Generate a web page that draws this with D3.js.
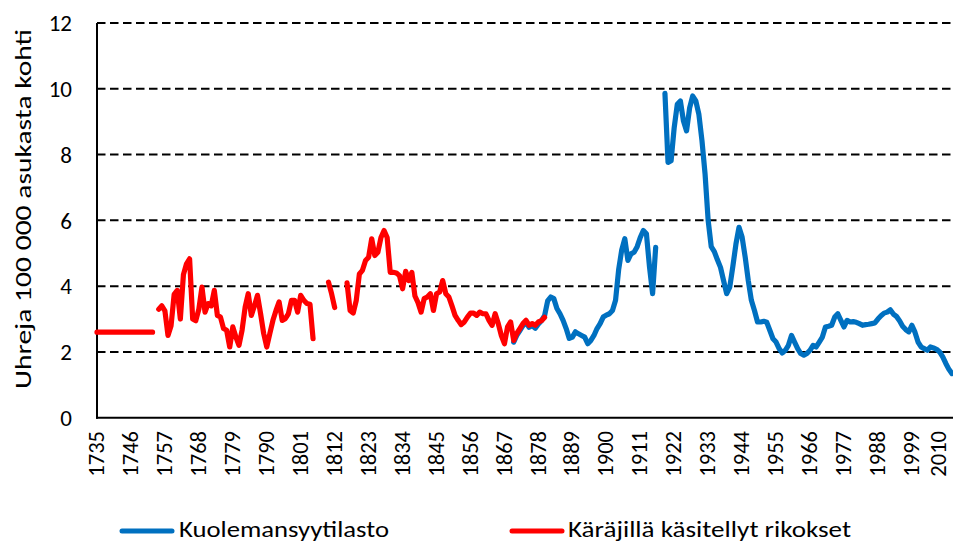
<!DOCTYPE html>
<html>
<head>
<meta charset="utf-8">
<script src="https://cdn.jsdelivr.net/npm/d3@7"></script>
<style>
  html, body { margin: 0; padding: 0; background: #fff; }
  svg { display: block; }
  text { font-family: Carlito, Lato, "Open Sans", sans-serif; fill: #000; }
</style>
</head>
<body>
<svg id="chart" width="953" height="542"></svg>
<script>
// ---- data ----
const firstYear = 1735;
const lastYear = 2012;
const tickLabels = ["1735","1746","1757","1768","1779","1790","1801","1812","1823","1834","1845","1856","1867","1878","1889","1900","1911","1922","1933","1944","1955","1966","1977","1988","1999","2010"];
const yTicks = [0, 2, 4, 6, 8, 10, 12];

const seriesNames = ["Kuolemansyytilasto", "Käräjillä käsitellyt rikokset"];
const seriesColors = ["#0070C0", "#FF0000"];

// Käräjillä käsitellyt rikokset, values from 1735 (null = no data)
const redStart = 1735;
const redValues = [
  2.6,2.6,2.6,2.6,2.6,2.6,2.6,2.6,2.6,2.6,2.6,2.6,2.6,2.6,2.6,2.6,2.6,2.6,2.6, // 1735-1753
  null, // 1754
  3.3,3.4,3.25,2.5,2.8,3.75,3.87,3.0,4.35,4.68, // 1755-1764
  4.83,3.0,2.95,3.3,3.97,3.21,3.47,3.4,3.87,3.11, // 1765-1774
  3.06,2.71,2.66,2.15,2.76,2.45,2.2,2.66,3.36,3.77, // 1775-1784
  3.11,3.4,3.72,3.16,2.56,2.15,2.56,2.96,3.26,3.52, // 1785-1794
  2.96,3.01,3.16,3.57,3.57,3.21,3.72,3.57,3.47,3.45, // 1795-1804
  2.4, // 1805
  null,null,null,null, // 1806-1809
  4.12,3.77,3.35, // 1810-1812
  null,null,null, // 1813-1815
  4.1,3.26,3.18,3.57, // 1816-1819
  4.37,4.48,4.78,4.88,5.44,4.93,5.03,5.48,5.69,5.48, // 1820-1829
  4.42,4.42,4.4,4.32,3.92,4.45,4.17,4.42,3.7,3.5, // 1830-1839
  3.21,3.62,3.67,3.77,3.26,3.77,3.82,4.17,3.77,3.67, // 1840-1849
  3.4,3.11,2.96,2.83,2.91,3.06,3.18,3.18,3.11,3.21, // 1850-1859
  3.16,3.16,2.96,2.81,3.16,2.86,2.5,2.25,2.76,2.91, // 1860-1869
  2.35,2.56,2.71,2.86,2.96,2.81,2.86,2.81,2.91,2.95, // 1870-1879
  3.05 // 1880
];

// Kuolemansyytilasto, values from 1870
const blueStart = 1870;
const blueValues = [
  2.3,2.5,2.65,2.8,2.9,2.75,2.8,2.72,2.85,2.95, // 1870-1879
  3.1,3.55,3.67,3.62,3.32,3.16,2.96,2.71,2.41,2.45, // 1880-1889
  2.61,2.55,2.5,2.45,2.25,2.35,2.5,2.71,2.86,3.06, // 1890-1899
  3.12,3.16,3.26,3.57,4.5,5.1,5.44,4.78,4.98,5.03, // 1900-1909
  5.2,5.48,5.69,5.59,4.58,3.77,5.18,null,null,9.86, // 1910-1919
  7.76,7.81,8.82,9.53,9.63,9.02,8.72,9.42,9.78,9.63, // 1920-1929
  9.22,8.42,7.41,6.0,5.2,5.05,4.8,4.57,4.17,3.77, // 1930-1939
  3.97,4.6,5.28,5.79,5.49,4.88,4.17,3.57,3.26,2.91, // 1940-1949
  2.91,2.93,2.9,2.65,2.4,2.3,2.1,1.97,2.05,2.2, // 1950-1959
  2.5,2.3,2.1,1.95,1.9,1.95,2.05,2.2,2.15,2.3, // 1960-1969
  2.45,2.76,2.78,2.81,3.06,3.16,2.96,2.76,2.96,2.91, // 1970-1979
  2.92,2.9,2.86,2.81,2.83,2.84,2.86,2.88,3.0,3.1, // 1980-1989
  3.18,3.21,3.28,3.15,3.08,2.95,2.78,2.68,2.61,2.81, // 1990-1999
  2.6,2.3,2.15,2.1,2.05,2.15,2.12,2.08,2.0,1.85, // 2000-2009
  1.65,1.47,1.34 // 2010-2012
];

// ---- chart ----
const svg = d3.select("#chart");
const W = 953, H = 542;
const plot = { left: 97, right: 952, top: 23, bottom: 417.7 };

const x = d3.scaleLinear().domain([firstYear, lastYear]).range([plot.left, plot.right]);
const y = d3.scaleLinear().domain([0, 12]).range([plot.bottom, plot.top]);

// gridlines
svg.append("g").selectAll("line")
  .data(yTicks.filter(d => d > 0))
  .join("line")
  .attr("x1", plot.left).attr("x2", W)
  .attr("y1", d => y(d)).attr("y2", d => y(d))
  .attr("stroke", "#000")
  .attr("stroke-width", 2)
  .attr("stroke-dasharray", "8.5,4.5");

// y tick labels
svg.append("g").selectAll("text")
  .data(yTicks)
  .join("text")
  .attr("x", 72)
  .attr("y", d => y(d))
  .attr("dy", "0.36em")
  .attr("text-anchor", "end")
  .attr("font-size", 23)
  .text(d => d);

// x tick labels (rotated); keep the last one inside the picture
svg.append("g").selectAll("text")
  .data(tickLabels)
  .join("text")
  .attr("transform", d => `translate(${Math.min(x(+d) - 0.5, W - 15)},431) rotate(-90)`)
  .attr("text-anchor", "end")
  .attr("dy", "0.34em")
  .attr("font-size", 22.5)
  .text(d => d);

// axes lines
svg.append("line")
  .attr("x1", plot.left).attr("x2", plot.left)
  .attr("y1", plot.top).attr("y2", plot.bottom + 1)
  .attr("stroke", "#000").attr("stroke-width", 2);
svg.append("line")
  .attr("x1", plot.left - 1).attr("x2", W)
  .attr("y1", plot.bottom).attr("y2", plot.bottom)
  .attr("stroke", "#000").attr("stroke-width", 2);

// y axis title
svg.append("text")
  .attr("transform", `translate(31,${(28 + 390) / 2}) rotate(-90)`)
  .attr("text-anchor", "middle")
  .attr("font-size", 23)
  .attr("textLength", 360)
  .attr("lengthAdjust", "spacingAndGlyphs")
  .text("Uhreja 100 000 asukasta kohti");

// lines
const line = d3.line()
  .defined(d => d[1] != null)
  .x(d => x(d[0]))
  .y(d => y(d[1]));

const blueData = blueValues.map((v, i) => [blueStart + i, v]);
const redData = redValues.map((v, i) => [redStart + i, v]);

[blueData, redData].forEach((data, i) => {
  svg.append("path")
    .datum(data)
    .attr("fill", "none")
    .attr("stroke", seriesColors[i])
    .attr("stroke-width", 5.2)
    .attr("stroke-linejoin", "round")
    .attr("stroke-linecap", "round")
    .attr("d", line);
});

// legend
const legend = [
  { name: seriesNames[0], color: seriesColors[0], x1: 122, x2: 172, tx: 179, tl: 210 },
  { name: seriesNames[1], color: seriesColors[1], x1: 512, x2: 562, tx: 568, tl: 283 }
];
const lg = svg.append("g");
legend.forEach(l => {
  lg.append("line")
    .attr("x1", l.x1).attr("x2", l.x2)
    .attr("y1", 531).attr("y2", 531)
    .attr("stroke", l.color).attr("stroke-width", 5)
    .attr("stroke-linecap", "round");
  lg.append("text")
    .attr("x", l.tx).attr("y", 537)
    .attr("font-size", 22)
    .attr("textLength", l.tl)
    .attr("lengthAdjust", "spacingAndGlyphs")
    .text(l.name);
});
</script>
</body>
</html>
